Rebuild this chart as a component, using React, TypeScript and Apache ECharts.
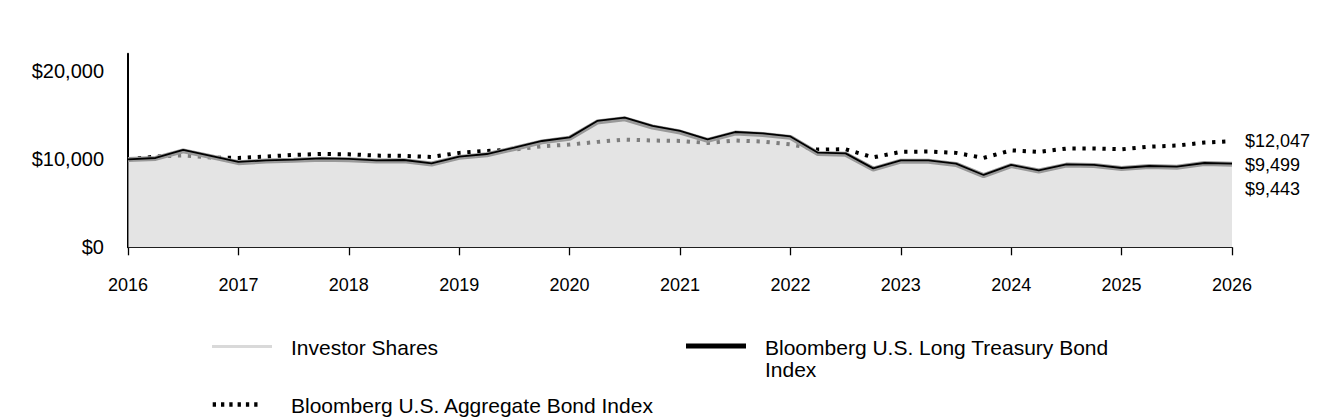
import React, { useEffect, useRef } from "react";
import * as echarts from "echarts";

const categories = [
  "2016-01", "2016-04", "2016-07", "2016-10",
  "2017-01", "2017-04", "2017-07", "2017-10",
  "2018-01", "2018-04", "2018-07", "2018-10",
  "2019-01", "2019-04", "2019-07", "2019-10",
  "2020-01", "2020-04", "2020-07", "2020-10",
  "2021-01", "2021-04", "2021-07", "2021-10",
  "2022-01", "2022-04", "2022-07", "2022-10",
  "2023-01", "2023-04", "2023-07", "2023-10",
  "2024-01", "2024-04", "2024-07", "2024-10",
  "2025-01", "2025-04", "2025-07", "2025-10",
  "2026-01",
];

const investorShares = [
  9990, 10100, 10960, 10300,
  9620, 9800, 9880, 10010,
  9960, 9800, 9840, 9470,
  10220, 10520, 11230, 11980,
  12390, 14230, 14600, 13670,
  13100, 12150, 12980, 12830,
  12490, 10650, 10570, 8890,
  9790, 9790, 9420, 8150,
  9280, 8670, 9340, 9290,
  8950, 9180, 9100, 9520,
  9443,
];

const longTreasury = [
  10000, 10150, 11060, 10380,
  9700, 9880, 9960, 10100,
  10040, 9880, 9920, 9540,
  10300, 10600, 11320, 12080,
  12490, 14360, 14730, 13790,
  13220, 12260, 13100, 12950,
  12600, 10750, 10670, 8970,
  9880, 9880, 9500, 8220,
  9360, 8740, 9420, 9360,
  9010, 9240, 9160, 9580,
  9499,
];

const aggregate = [
  10000, 10300, 10450, 10190,
  10160, 10310, 10500, 10610,
  10570, 10420, 10390, 10270,
  10730, 10955, 11100, 11480,
  11670, 11980, 12240, 12130,
  12090, 11860, 12130, 12010,
  11700, 11100, 11140, 10220,
  10840, 10880, 10730, 10160,
  11020, 10840, 11220, 11220,
  11140, 11440, 11560, 11900,
  12047,
];

const NAME_INV = "Investor Shares";
const NAME_TSY = "Bloomberg U.S. Long Treasury Bond Index";
const NAME_AGG = "Bloomberg U.S. Aggregate Bond Index";

const FONT = "'Liberation Sans', Arial, Helvetica, sans-serif";

const money = (v: number) => "$" + Number(v).toLocaleString("en-US");

export default function App() {
  const ref = useRef<HTMLDivElement>(null);

  useEffect(() => {
    if (!ref.current) return;
    const chart = echarts.init(ref.current, undefined, { renderer: "svg" });

    const endLabel = (offsetY: number) => ({
      show: true,
      distance: 13,
      offset: [0, offsetY],
      color: "#000",
      fontSize: 18,
      fontFamily: FONT,
      formatter: (p: any) => money(p.value),
    });

    chart.setOption({
      animation: false,
      textStyle: { fontFamily: FONT },
      grid: { left: 128, right: 100, top: 53.7, bottom: 172.7, containLabel: false },
      xAxis: {
        type: "category",
        data: categories,
        boundaryGap: false,
        axisLine: { show: true, lineStyle: { color: "#000", width: 1 } },
        axisTick: { show: true, interval: 3, length: 8, lineStyle: { color: "#000", width: 1.3 } },
        axisLabel: {
          interval: 3,
          margin: 29,
          color: "#000",
          fontSize: 18,
          fontFamily: FONT,
          formatter: (v: string) => v.slice(0, 4),
        },
        splitLine: { show: false },
      },
      yAxis: {
        type: "value",
        min: 0,
        max: 22000,
        interval: 10000,
        axisLine: { show: true, lineStyle: { color: "#000", width: 2 } },
        axisTick: { show: false },
        splitLine: { show: false },
        axisLabel: {
          margin: 24,
          color: "#000",
          fontSize: 20,
          fontFamily: FONT,
          padding: [6, 0, 0, 0],
          formatter: (v: number) => (v % 10000 === 0 ? money(v) : ""),
        },
      },
      series: [
        {
          name: NAME_AGG,
          type: "line",
          data: aggregate,
          symbol: "none",
          z: 2,
          lineStyle: { color: "#000", width: 4, type: [3.3, 6.7], cap: "butt" },
          endLabel: endLabel(0),
        },
        {
          name: NAME_INV,
          type: "line",
          data: investorShares,
          symbol: "none",
          z: 3,
          lineStyle: { color: "#999999", width: 5 },
          areaStyle: { color: "rgba(210,210,210,0.6)", opacity: 1 },
          endLabel: endLabel(25),
        },
        {
          name: NAME_TSY,
          type: "line",
          data: longTreasury,
          symbol: "none",
          z: 4,
          lineStyle: { color: "#000", width: 1.8 },
          endLabel: endLabel(1.5),
        },
      ],
      graphic: [
        {
          type: "line",
          shape: { x1: 212, y1: 346.5, x2: 272, y2: 346.5 },
          style: { stroke: "#d9d9d9", lineWidth: 3 },
        },
        {
          type: "text",
          x: 291,
          y: 347,
          style: { text: NAME_INV, fontSize: 21, fontFamily: FONT, fill: "#000", verticalAlign: "middle" },
        },
        {
          type: "line",
          shape: { x1: 686, y1: 346, x2: 746, y2: 346 },
          style: { stroke: "#000", lineWidth: 5 },
        },
        {
          type: "text",
          x: 765,
          y: 336,
          style: {
            text: "Bloomberg U.S. Long Treasury Bond\nIndex",
            fontSize: 21,
            lineHeight: 22,
            fontFamily: FONT,
            fill: "#000",
            verticalAlign: "top",
          },
        },
        {
          type: "line",
          shape: { x1: 212.7, y1: 404.5, x2: 257.5, y2: 404.5 },
          style: { stroke: "#000", lineWidth: 4.7, lineDash: [3.3, 5] },
        },
        {
          type: "text",
          x: 291,
          y: 405,
          style: { text: NAME_AGG, fontSize: 21, fontFamily: FONT, fill: "#000", verticalAlign: "middle" },
        },
      ],
    });

    return () => chart.dispose();
  }, []);

  return (
    <div
      ref={ref}
      style={{ position: "fixed", left: 0, top: 0, width: 1332, height: 420, background: "#fff" }}
    />
  );
}
